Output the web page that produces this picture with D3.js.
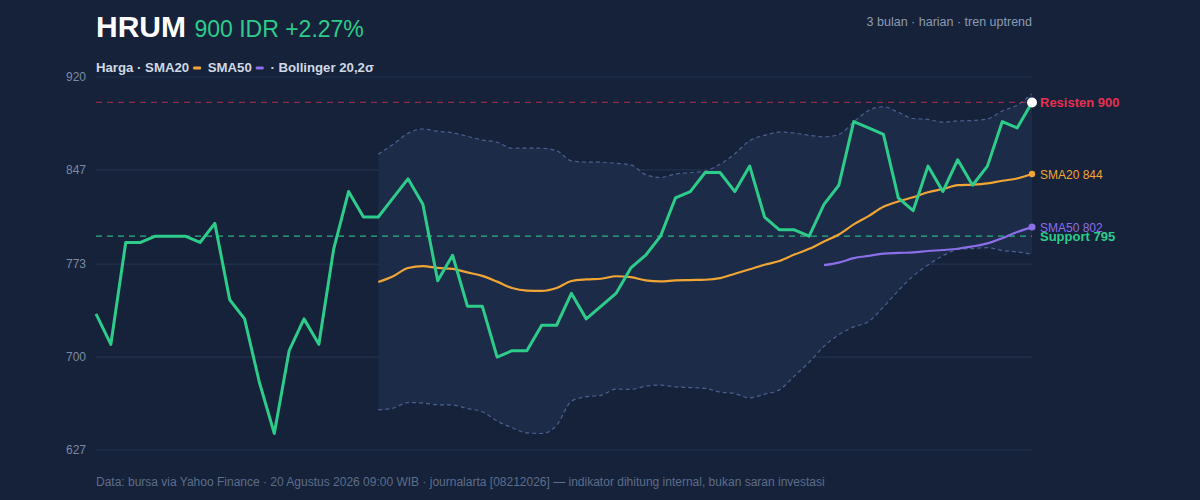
<!DOCTYPE html>
<html><head><meta charset="utf-8">
<script src="https://cdn.jsdelivr.net/npm/d3@7"></script>
<style>
html,body{margin:0;padding:0;background:#15223a;}
svg{display:block;font-family:"Liberation Sans",Arial,Helvetica,sans-serif;}
</style></head>
<body>
<svg id="chart" width="1200" height="500"></svg>
<script>
// ---- data (daily closes) ----
const ticker = "HRUM";
const lastPrice = 900;
const changePct = "+2.27%";
const prices = [734,710,790,790,795,795,795,790,805,745,
                730,680,640,705,730,710,785,830,810,810,
                825,840,820,760,780,740,740,700,705,705,
                725,725,750,730,740,750,770,780,795,825,
                830,845,845,830,850,810,800,800,795,820,
                835,885,880,875,825,815,850,830,855,835,
                850,885,880,900];
const yTickLabels = [627,700,773,847,920];
const yDomain = [627,920];
const resistance = 900;
const support = 795;
const smaShort = 20, smaLong = 50, bbK = 2;

// ---- indicators derived from prices ----
function sma(n){return prices.map((p,i)=> i<n-1?null: d3.mean(prices.slice(i-n+1,i+1)));}
const sma20 = sma(smaShort);
const sma50 = sma(smaLong);
const bb = prices.map((p,i)=>{
  if(i<smaShort-1) return null;
  const w = prices.slice(i-smaShort+1,i+1);
  const m = d3.mean(w);
  const sd = Math.sqrt(d3.mean(w.map(v=>(v-m)*(v-m))));
  return {i, up:m+bbK*sd, lo:m-bbK*sd};
}).filter(d=>d);

// ---- layout ----
const svg = d3.select("#chart");
const L=96,R=1032,T=77,B=450;
const x = d3.scaleLinear().domain([0,prices.length-1]).range([L,R]);
const y = d3.scaleLinear().domain(yDomain).range([B,T]);

const C = {bg:"#15223a",band:"#1c2b48",grid:"#23324e",price:"#2ecc8a",o:"#f0a535",p:"#8b6ee8",red:"#e5314f",bbl:"#4a6190",tick:"#7b8aa4"};

svg.append("rect").attr("width",1200).attr("height",500).attr("fill",C.bg);

// grid
svg.append("g").selectAll("line").data(yTickLabels).join("line")
  .attr("x1",L).attr("x2",R).attr("y1",d=>y(d)).attr("y2",d=>y(d))
  .attr("stroke",C.grid).attr("stroke-width",1.2);

// y axis labels
const yAxis = d3.axisLeft(y).tickValues(yTickLabels).tickSize(0).tickPadding(10).tickFormat(d3.format("d"));
const ga = svg.append("g").attr("transform",`translate(${L},0)`).call(yAxis);
ga.select(".domain").remove();
ga.selectAll("text").attr("fill",C.tick).attr("font-size",12).attr("font-family","Liberation Sans, Arial, sans-serif");

// bollinger band
const area = d3.area().x(d=>x(d.i)).y0(d=>y(d.lo)).y1(d=>y(d.up)).curve(d3.curveMonotoneX);
svg.append("path").datum(bb).attr("d",area).attr("fill",C.band);
const upLine = d3.line().x(d=>x(d.i)).y(d=>y(d.up)).curve(d3.curveMonotoneX);
const loLine = d3.line().x(d=>x(d.i)).y(d=>y(d.lo)).curve(d3.curveMonotoneX);
[upLine,loLine].forEach(l=>svg.append("path").datum(bb).attr("d",l).attr("fill","none")
  .attr("stroke",C.bbl).attr("stroke-width",1.2).attr("stroke-dasharray","4,3"));

// resistance / support
svg.append("line").attr("x1",L).attr("x2",R).attr("y1",y(resistance)).attr("y2",y(resistance))
  .attr("stroke",C.red).attr("stroke-width",1.3).attr("stroke-dasharray","6,5").attr("opacity",0.6);
svg.append("line").attr("x1",L).attr("x2",R).attr("y1",y(support)).attr("y2",y(support))
  .attr("stroke",C.price).attr("stroke-width",1.3).attr("stroke-dasharray","6,5").attr("opacity",0.85);

// SMAs
const smaLine = d3.line().defined(d=>d.v!=null).x(d=>x(d.i)).y(d=>y(d.v)).curve(d3.curveMonotoneX);
const s20 = sma20.map((v,i)=>({i,v})), s50 = sma50.map((v,i)=>({i,v}));
svg.append("path").datum(s20).attr("d",smaLine).attr("fill","none").attr("stroke",C.o).attr("stroke-width",2.2);
svg.append("path").datum(s50).attr("d",smaLine).attr("fill","none").attr("stroke",C.p).attr("stroke-width",2.2);

// price
const pLine = d3.line().x((d,i)=>x(i)).y(d=>y(d));
svg.append("path").datum(prices).attr("d",pLine).attr("fill","none").attr("stroke",C.price)
  .attr("stroke-width",3).attr("stroke-linejoin","round");

// end markers
const n = prices.length-1;
const last20 = sma20[n], last50 = sma50[n];
svg.append("circle").attr("cx",x(n)).attr("cy",y(last20)).attr("r",3.2).attr("fill",C.o);
svg.append("circle").attr("cx",x(n)).attr("cy",y(last50)).attr("r",3.5).attr("fill",C.p);
svg.append("circle").attr("cx",x(n)).attr("cy",y(prices[n])).attr("r",5).attr("fill","#ffffff");

// right labels
function rl(val,txt,col,bold,size){
  svg.append("text").attr("x",R+8).attr("y",y(val)+4.5).attr("fill",col)
   .attr("font-size",size).attr("font-weight",bold?"bold":"normal").text(txt);
}
rl(resistance,`Resisten ${resistance}`,C.red,true,13);
rl(last20,`SMA20 ${Math.round(last20)}`,C.o,false,12);
rl(last50,`SMA50 ${Math.round(last50)}`,C.p,false,12);
rl(support,`Support ${support}`,C.price,true,13);

// title
const t = svg.append("text").attr("x",96).attr("y",37);
t.append("tspan").text(ticker).attr("fill","#ffffff").attr("font-size",30).attr("font-weight","bold");
t.append("tspan").text(` ${lastPrice} IDR ${changePct}`).attr("fill",C.price).attr("font-size",23).attr("dx",2);

svg.append("text").attr("x",R).attr("y",26).attr("text-anchor","end").attr("fill","#8d9bb2")
  .attr("font-size",12.5).text("3 bulan · harian · tren uptrend");

// legend
let lx = 96; const ly = 72;
function lt(s){const e=svg.append("text").attr("x",lx).attr("y",ly).attr("fill","#d0d8e5")
  .attr("font-size",13.2).attr("font-weight","bold").attr("xml:space","preserve").text(s);
  lx += e.node().getComputedTextLength();}
function ld(col){svg.append("rect").attr("x",lx+4).attr("y",ly-5.5).attr("width",8).attr("height",3).attr("rx",1).attr("fill",col); lx+=15;}
lt("Harga · SMA20"); ld(C.o); lt(" SMA50"); ld(C.p); lt(" · Bollinger 20,2σ");

// footer
svg.append("text").attr("x",96).attr("y",486).attr("fill","#5d6d8a").attr("font-size",12)
  .text("Data: bursa via Yahoo Finance · 20 Agustus 2026 09:00 WIB · journalarta [08212026] — indikator dihitung internal, bukan saran investasi");
</script>
</body></html>
